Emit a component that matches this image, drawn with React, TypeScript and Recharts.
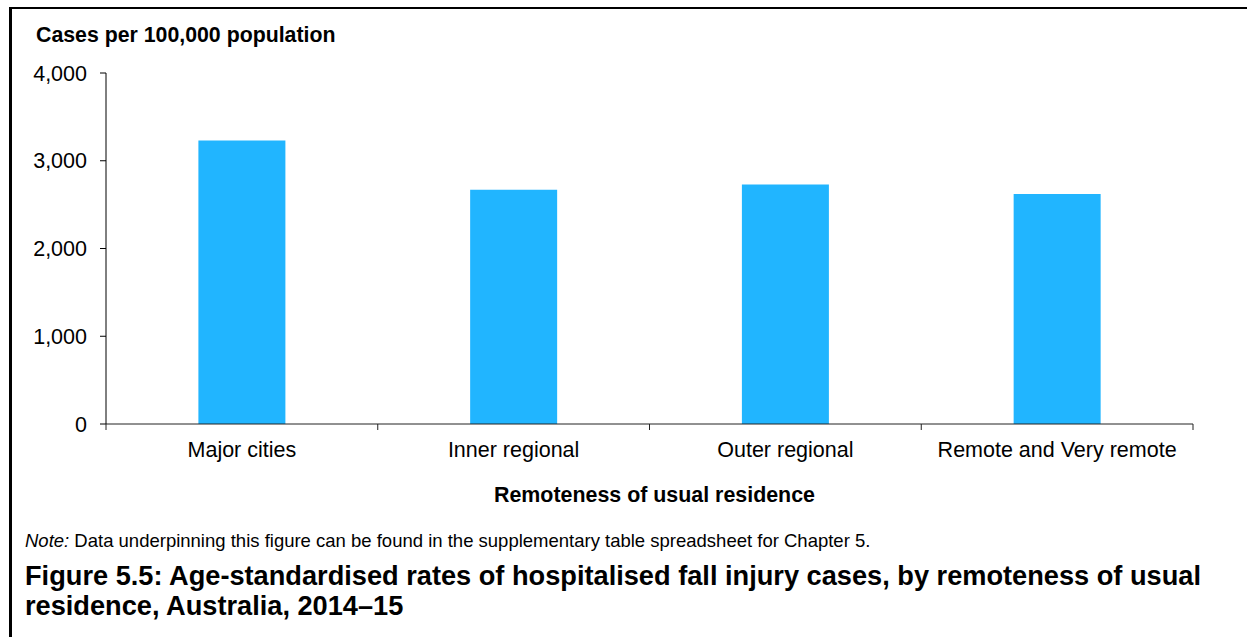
import React from 'react';
import { BarChart, Bar, XAxis, YAxis } from 'recharts';

const categories = ['Major cities', 'Inner regional', 'Outer regional', 'Remote and Very remote'];
const rates = [3230, 2670, 2730, 2620];
const yTicks = [0, 1000, 2000, 3000, 4000];

const yTitle = 'Cases per 100,000 population';
const xTitle = 'Remoteness of usual residence';
const noteLabel = 'Note:';
const noteText = ' Data underpinning this figure can be found in the supplementary table spreadsheet for Chapter 5.';
const figureTitle1 = 'Figure 5.5: Age-standardised rates of hospitalised fall injury cases, by remoteness of usual';
const figureTitle2 = 'residence, Australia, 2014\u201315';

const data = categories.map((c, i) => ({ category: c, rate: rates[i] }));

const FONT = '"Liberation Sans", Arial, Helvetica, sans-serif';
const TICK_FONT = 21.5;
const TICK_SIZE = 6;
const X_TICK_MARGIN = 11.5;
const W = 1247;
const H = 637;

const XTick = (props: any) => {
  const { x, y, payload, index, visibleTicksCount, width } = props;
  const count = visibleTicksCount ?? categories.length;
  const half = payload && typeof payload.offset === 'number' && payload.offset > 0 ? payload.offset : width / (2 * count);
  const axisY = y - TICK_SIZE - X_TICK_MARGIN;
  const isLast = index === count - 1;
  return (
    <g>
      <line x1={x - half} x2={x - half} y1={axisY} y2={axisY + TICK_SIZE} stroke="#222" strokeWidth={1} />
      {isLast && (
        <line x1={x + half} x2={x + half} y1={axisY} y2={axisY + TICK_SIZE} stroke="#222" strokeWidth={1} />
      )}
      <text x={x} y={y} dy="0.71em" textAnchor="middle" fontSize={TICK_FONT} fill="#000" fontFamily={FONT}>
        {payload.value}
      </text>
    </g>
  );
};

export default function App() {
  return (
    <div style={{ position: 'absolute', left: 0, top: 0, width: W, height: H, background: '#fff', overflow: 'hidden', fontFamily: FONT }}>
      <div style={{ position: 'absolute', left: 9, top: 7, width: W - 9, height: H - 7, borderLeft: '3px solid #000', borderTop: '2px solid #000', boxSizing: 'border-box' }} />
      <div style={{ position: 'absolute', left: 0, top: 0 }}>
        <BarChart
          width={W}
          height={H}
          data={data}
          margin={{ top: 73, right: 54, bottom: 173, left: 0 }}
          barCategoryGap="34%"
        >
          <XAxis
            dataKey="category"
            height={40}
            axisLine={{ stroke: '#222', strokeWidth: 1 }}
            tickLine={false}
            tickSize={TICK_SIZE}
            tickMargin={X_TICK_MARGIN}
            interval={0}
            tick={<XTick />}
          />
          <YAxis
            width={106}
            domain={[0, 4000]}
            ticks={yTicks}
            interval={0}
            tickSize={TICK_SIZE}
            tickMargin={13}
            axisLine={{ stroke: '#000', strokeWidth: 1 }}
            tickLine={{ stroke: '#000', strokeWidth: 1 }}
            tick={{ fontSize: TICK_FONT, fill: '#000', fontFamily: FONT }}
            tickFormatter={(v: number) => v.toLocaleString('en-US')}
          />
          <Bar dataKey="rate" fill="#21B5FF" isAnimationActive={false} />
        </BarChart>
      </div>
      <svg width={W} height={H} style={{ position: 'absolute', left: 0, top: 0, pointerEvents: 'none' }}>
        <text x={36} y={41.5} fontSize={21.3} fontWeight="bold" fill="#000" fontFamily={FONT}>{yTitle}</text>
        <text x={654.5} y={502} fontSize={21.4} fontWeight="bold" fill="#000" fontFamily={FONT} textAnchor="middle">{xTitle}</text>
        <text x={25} y={547} fontSize={18.5} fill="#000" fontFamily={FONT}>
          <tspan fontStyle="italic">{noteLabel}</tspan>
          <tspan>{noteText}</tspan>
        </text>
        <text x={25} y={585} fontSize={27.2} fontWeight="bold" fill="#000" fontFamily={FONT}>{figureTitle1}</text>
        <text x={25} y={615} fontSize={27.2} fontWeight="bold" fill="#000" fontFamily={FONT}>{figureTitle2}</text>
      </svg>
    </div>
  );
}
